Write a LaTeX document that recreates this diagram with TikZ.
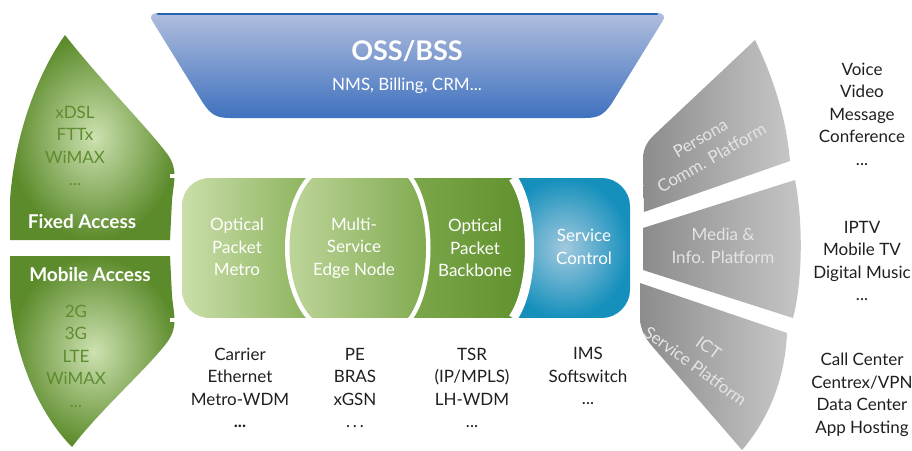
\documentclass[tikz,border=0pt]{standalone}
\usepackage{fontspec}
\setmainfont{Lato}
\definecolor{ossTop}{HTML}{B0BDDD}
\definecolor{ossBot}{HTML}{3F72BF}
\definecolor{ossLine}{HTML}{2563B3}
\definecolor{accLight}{HTML}{CDE1B0}
\definecolor{accDark}{HTML}{5C8B2B}
\definecolor{accText}{HTML}{5E8C30}
\definecolor{gLight}{HTML}{CBDEAA}
\definecolor{gMid}{HTML}{86B056}
\definecolor{gDark}{HTML}{5F8F2C}
\definecolor{scOuter}{HTML}{1590BC}
\definecolor{scInner}{HTML}{A2C9DE}
\definecolor{segDark}{HTML}{8C8C8C}
\definecolor{segLight}{HTML}{C6C6C6}
\definecolor{segText}{HTML}{E4E4E4}
\begin{document}
\begin{tikzpicture}[x=1pt,y=-1pt,
  gap/.style={draw=white,line width=9pt,line join=round},
  body/.style={font=\fontsize{17}{22.5}\selectfont,align=center,inner sep=0pt},
  inner/.style={body,text=white},
  dark/.style={body,text=black!88},
  acc/.style={body,text=accText},
  head/.style={font=\bfseries\fontsize{19}{22}\selectfont,text=white,inner sep=0pt},
  seg/.style={body,text=segText}]
\useasboundingbox (0,0) rectangle (912,450);

% OSS/BSS
\shade[top color=ossTop, bottom color=ossBot]
  (158,13) -- (657,13) .. controls (664,13) and (666,17) .. (662,22)
  -- (612,103) .. controls (604,115) and (598,118) .. (585,118)
  -- (230,118) .. controls (217,118) and (211,115) .. (203,103)
  -- (153,22) .. controls (149,17) and (151,13) .. (158,13) -- cycle;
\draw[ossLine, line width=2.5pt, line cap=round] (158,14) -- (657,14);
\node[font=\bfseries\fontsize{27}{30}\selectfont, text=white] (oss) at (407,51) {OSS/BSS};
\node[inner] (osssub) at (407,86) {NMS, Billing, CRM...};

% Fixed access
\shade[inner color=accLight, outer color=accDark]
  (10,240) -- (10,200) .. controls (15,130) and (40,70) .. (65,35)
  .. controls (100,80) and (150,130) .. (168,155)
  .. controls (178,170) and (174,180) .. (172,200) -- (170,240) -- cycle;
\node[acc] (fixedlist) at (75,146) {xDSL\\FTTx\\WiMAX\\...};
\node[head] (fixed) at (82,222) {Fixed Access};

% Mobile access
\shade[inner color=accLight, outer color=accDark]
  (10,256) -- (10,296) .. controls (15,366) and (45,420) .. (72,447)
  .. controls (100,410) and (150,366) .. (168,341)
  .. controls (178,326) and (174,316) .. (172,296) -- (170,256) -- cycle;
\node[head] (mobile) at (90,275) {Mobile Access};
\node[acc] (mobilelist) at (76,356) {2G\\3G\\LTE\\WiMAX\\...};

% Service control (bottom layer)
\shade[inner color=scInner, outer color=scOuter]
  (500,178) -- (602,178) .. controls (617,178) and (630,191) .. (630,206)
  -- (630,290) .. controls (630,305) and (617,318) .. (602,318)
  -- (500,318) -- cycle;
% Optical packet metro
\shade[left color=gLight, right color=gMid]
  (320,178) -- (210,178) .. controls (194,178) and (182,190) .. (182,206)
  -- (182,290) .. controls (182,306) and (194,318) .. (210,318)
  -- (320,318) -- cycle;
% Optical packet backbone
\shade[left color=gMid!80!gDark, right color=gDark]
  (400,178) -- (513,178) .. controls (535,210) and (535,286) .. (513,318)
  -- (400,318) -- cycle;
\draw[gap] (513,178) .. controls (535,210) and (535,286) .. (513,318);
% Multi-service edge node
\draw[gap] (312,178) -- (408,178) .. controls (432,210) and (432,286) .. (408,318)
  -- (312,318) .. controls (282,286) and (282,210) .. (312,178) -- cycle;
\shade[left color=gLight!85!gMid, right color=gMid!80!gDark]
  (312,178) -- (408,178) .. controls (432,210) and (432,286) .. (408,318)
  -- (312,318) .. controls (282,286) and (282,210) .. (312,178) -- cycle;
\draw[white, line width=4pt] (170,176) -- (640,176);
\draw[white, line width=4pt] (170,320) -- (640,320);

\node[inner] (metro) at (237,247) {Optical\\Packet\\Metro};
\node[inner] (msen) at (354,248) {Multi-\\Service\\Edge Node};
\node[inner] (backbone) at (475,248) {Optical\\Packet\\Backbone};
\node[inner] (sc) at (584,247) {Service\\Control};

% bottom lists
\node[dark] (metrolist) at (240,388) {Carrier\\Ethernet\\Metro-WDM\\\textbf{...}};
\node[dark] (msenlist) at (355,388) {PE\\BRAS\\xGSN\\.\,.\,.};
\node[dark] (bblist) at (472,388) {TSR\\(IP/MPLS)\\LH-WDM\\...};
\node[dark] (sclist) at (588,376) {IMS\\Softswitch\\...};

% grey fan segments
\shade[left color=segDark, right color=segLight]
  (755,40) .. controls (772,75) and (786,115) .. (790,161)
  -- (644,212) -- (643,160) .. controls (643,150) and (646,143) .. (653,136) -- cycle;
\shade[left color=segDark, right color=segLight]
  (643,228) -- (795,180) .. controls (803,220) and (803,280) .. (793,318)
  -- (643,270) -- cycle;
\shade[left color=segDark, right color=segLight]
  (640,283) -- (787,333) .. controls (785,380) and (768,420) .. (742,450)
  -- (652,346) .. controls (645,338) and (641,330) .. (640,320) -- cycle;
\node[seg, rotate=30] (persona) at (706,148) {Persona\\Comm. Platform};
\node[seg] (media) at (723,246) {Media \&\\Info. Platform};
\node[seg, rotate=-36] (ict) at (702,357) {ICT\\Service Platform};

% right lists
\node[dark] (personalist) at (862,114) {Voice\\Video\\Message\\Conference\\...};
\node[dark] (medialist) at (862,261) {IPTV\\Mobile TV\\Digital Music\\...};
\node[dark] (ictlist) at (862,395) {Call Center\\Centrex/VPN\\Data Center\\App Hosting};
\end{tikzpicture}
\end{document}
